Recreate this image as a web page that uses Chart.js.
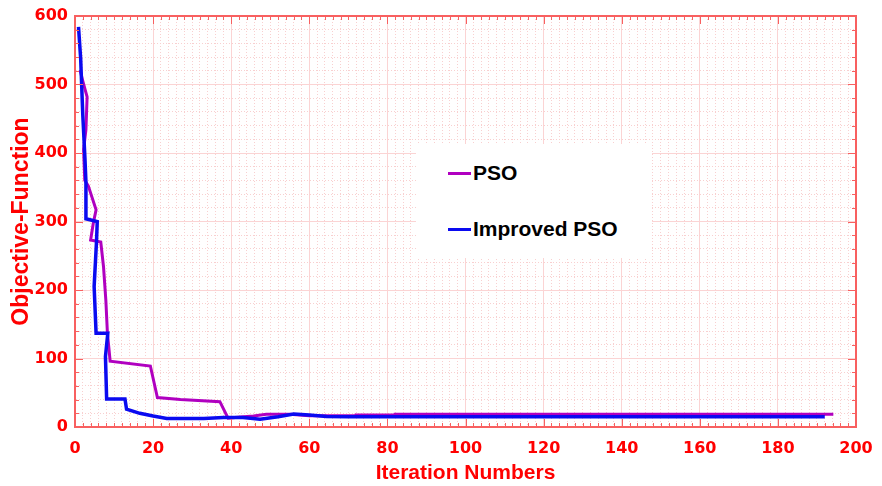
<!DOCTYPE html>
<html>
<head>
<meta charset="utf-8">
<script src="https://cdn.jsdelivr.net/npm/chart.js@4"></script>
<style>
    body { margin: 0; background: #fff; }
    #wrap { position: relative; width: 882px; height: 486px; }
    #chart { display: block; }
    #legend {
        position: absolute; left: 416px; top: 144px; width: 236px; height: 114px;
        background: #fff; font: bold 21px "Liberation Sans", Arial, sans-serif; color: #000;
    }
    #legend .item { position: absolute; left: 32px; display: flex; align-items: center; }
    #legend .swatch { width: 23px; height: 3px; margin-right: 2px; }
</style>
</head>
<body>
<div id="wrap">
    <canvas id="chart" width="882" height="486"></canvas>
    <div id="legend"></div>
</div>
<script>
// Series (iteration, objective value)
const psoLabel = 'PSO';
const psoX = [1.3, 2.0, 3.1, 2.8, 2.2, 2.5, 3.4, 5.4, 4.7, 4.0, 6.6, 7.3, 7.9, 8.3, 9.0, 19.3, 21.1, 27, 37.1, 39.2, 45.7, 49, 55, 60, 72, 72, 82, 82, 194.2];
const psoY = [521, 505, 482, 434, 405, 360, 352, 317, 298, 273, 270, 234, 185, 137, 96, 89, 43, 40, 37, 13, 16, 18.5, 18.5, 16.5, 16.5, 17.5, 17.5, 18.5, 18.5];

const improvedLabel = 'Improved PSO';
const improvedX = [0.9, 1.45, 2.0, 2.55, 2.8, 2.8, 5.7, 5.5, 4.9, 5.4, 8.4, 7.8, 8.1, 12.8, 13.2, 16.6, 20, 23.5, 33, 38, 43, 47.4, 52, 56, 60, 64.4, 70, 192];
const improvedY = [584, 538, 455, 392, 358, 304, 300, 270, 205, 137, 137, 103, 41, 41, 26, 20, 16, 12.5, 12.5, 14, 14, 11.5, 15, 19, 17.5, 15.5, 15, 15];

const xTicks = [0, 20, 40, 60, 80, 100, 120, 140, 160, 180, 200];
const yTicks = [0, 100, 200, 300, 400, 500, 600];

const psoColor = '#b000c0';
const improvedColor = '#0a0af0';
const axisRed = '#ff0000';
const frameRed = '#f86060';
const majorGrid = '#fbd4d4';
const minorGrid = '#f8d0d0';

function toPoints(xs, ys) {
    return xs.map((x, i) => ({ x: x, y: ys[i] }));
}

// frame round the plot plus inward tick marks on all four sides
const framePlugin = {
    id: 'frame',
    afterDatasetsDraw(chart) {
        const ctx = chart.ctx;
        const { left, right, top, bottom } = chart.chartArea;
        const xs = chart.scales.x;
        const ys = chart.scales.y;
        ctx.save();
        ctx.strokeStyle = frameRed;
        ctx.lineWidth = 1;
        ctx.beginPath();
        xs.ticks.forEach(t => {
            const px = Math.round(xs.getPixelForValue(t.value)) + 0.5;
            const len = xTicks.includes(t.value) ? 8 : 4;
            ctx.moveTo(px, bottom); ctx.lineTo(px, bottom - len);
            ctx.moveTo(px, top); ctx.lineTo(px, top + len);
        });
        ys.ticks.forEach(t => {
            const py = Math.round(ys.getPixelForValue(t.value)) + 0.5;
            const len = yTicks.includes(t.value) ? 8 : 4;
            ctx.moveTo(left, py); ctx.lineTo(left + len, py);
            ctx.moveTo(right, py); ctx.lineTo(right - len, py);
        });
        ctx.stroke();
        ctx.lineWidth = 2;
        ctx.strokeRect(left, top, right - left, bottom - top);
        ctx.restore();
    }
};

const isMajor = (list, c) => c.tick && list.includes(c.tick.value);

new Chart(document.getElementById('chart'), {
    type: 'scatter',
    data: {
        datasets: [
            {
                label: psoLabel,
                data: toPoints(psoX, psoY),
                showLine: true,
                borderColor: psoColor,
                borderWidth: 3,
                pointRadius: 0,
                order: 1
            },
            {
                label: improvedLabel,
                data: toPoints(improvedX, improvedY),
                showLine: true,
                borderColor: improvedColor,
                borderWidth: 3.5,
                pointRadius: 0,
                order: 0
            }
        ]
    },
    options: {
        responsive: false,
        animation: false,
        devicePixelRatio: 1,
        layout: { padding: { top: 16, right: 26, left: 0, bottom: 0 } },
        plugins: { legend: { display: false }, tooltip: { enabled: false } },
        scales: {
            x: {
                type: 'linear', min: 0, max: 200,
                afterFit: s => { s.height = 59; s.paddingLeft = 0; s.paddingRight = 0; },
                ticks: {
                    stepSize: 2, autoSkip: false, maxRotation: 0, padding: 12,
                    color: axisRed, font: { family: 'DejaVu Sans', weight: 'bold', size: 16 },
                    callback: v => xTicks.includes(v) ? String(v) : ''
                },
                grid: {
                    drawTicks: false,
                    color: c => isMajor(xTicks, c) ? majorGrid : minorGrid,
                    lineWidth: 1
                },
                border: {
                    color: frameRed, width: 2,
                    dash: c => (c.tick && !xTicks.includes(c.tick.value)) ? [1, 2] : []
                },
                title: {
                    display: true, text: 'Iteration Numbers', color: axisRed, padding: 0,
                    font: { family: 'Liberation Sans', weight: 'bold', size: 21 }
                }
            },
            y: {
                type: 'linear', min: 0, max: 600,
                afterFit: s => { s.width = 75; s.paddingTop = 0; s.paddingBottom = 0; },
                ticks: {
                    stepSize: 20, autoSkip: false, padding: 7,
                    color: axisRed, font: { family: 'DejaVu Sans', weight: 'bold', size: 16 },
                    callback: v => yTicks.includes(v) ? String(v) : ''
                },
                grid: {
                    drawTicks: false,
                    color: c => isMajor(yTicks, c) ? majorGrid : minorGrid,
                    lineWidth: 1
                },
                border: {
                    color: frameRed, width: 2,
                    dash: c => (c.tick && !yTicks.includes(c.tick.value)) ? [1, 2] : []
                },
                title: {
                    display: true, text: 'Objective-Function', color: axisRed, padding: { top: 8 },
                    font: { family: 'Liberation Sans', weight: 'bold', size: 23 }
                }
            }
        }
    },
    plugins: [framePlugin]
});

// Legend box inside the plot, as in the reference
const legend = document.getElementById('legend');
[[psoLabel, psoColor, 17], [improvedLabel, improvedColor, 73]].forEach(([label, color, top]) => {
    const item = document.createElement('div');
    item.className = 'item';
    item.style.top = top + 'px';
    item.innerHTML = '<span class="swatch" style="background:' + color + '"></span><span>' + label + '</span>';
    legend.appendChild(item);
});
</script>
</body>
</html>
